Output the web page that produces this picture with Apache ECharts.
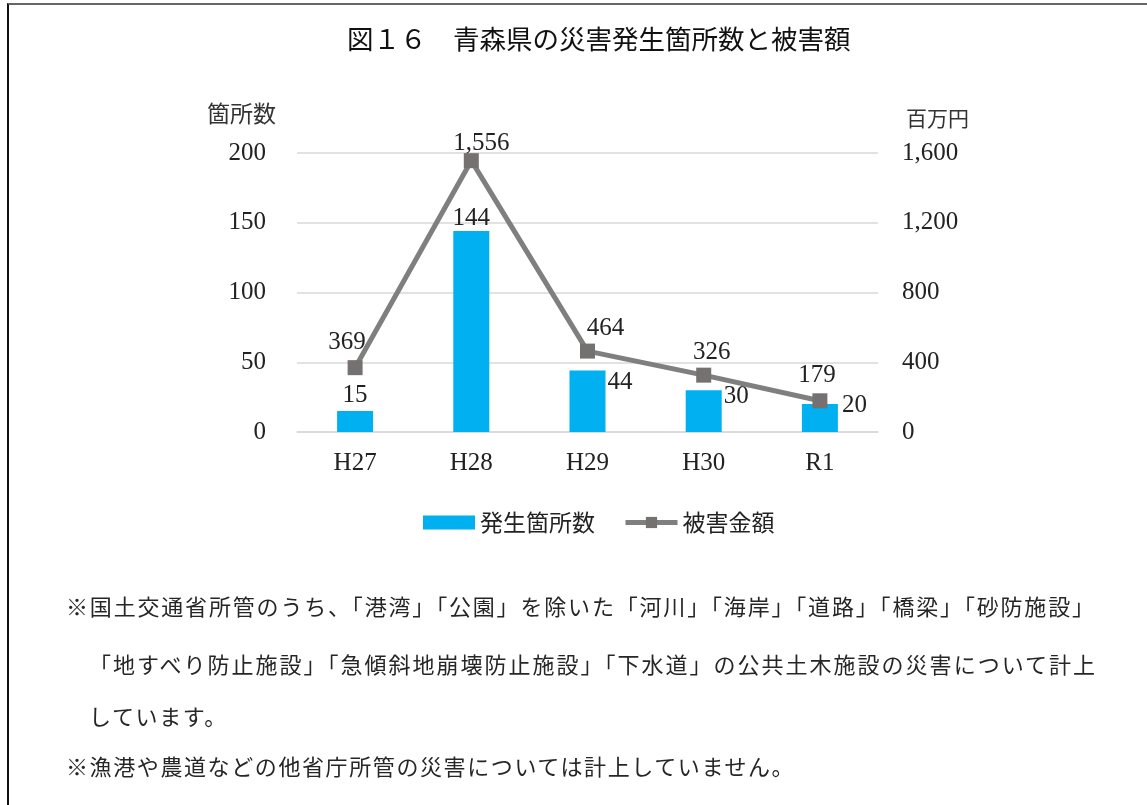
<!DOCTYPE html>
<html>
<head>
<meta charset="utf-8">
<script src="https://cdn.jsdelivr.net/npm/echarts@6/dist/echarts.min.js"></script>
<style>
  html, body { margin: 0; padding: 0; background: #fff; }
  #wrap { position: relative; width: 1147px; height: 805px; overflow: hidden; background: #fff; }
  #chart { position: absolute; left: 0; top: 0; width: 1147px; height: 805px; }
  #frame { position: absolute; left: 7px; top: 3px; width: 1200px; height: 900px;
           border-left: 2px solid #111; border-top: 2px solid #666; pointer-events: none; }
  .note { position: absolute; font-family: "Noto Sans CJK JP", sans-serif; font-size: 22px;
          color: #262626; line-height: 30px; white-space: nowrap; }
  .just { text-align: justify; text-align-last: justify; text-justify: inter-character; }
</style>
</head>
<body>
<div id="wrap">
  <div id="chart"></div>
  <div id="frame"></div>
  <div class="note just" id="n1" style="left:66px; top:590px; width:1028px;"></div>
  <div class="note just" id="n2" style="left:89px; top:648px; width:1006px;"></div>
  <div class="note" id="n3" style="left:89px; top:700px; letter-spacing:1.6px;"></div>
  <div class="note" id="n4" style="left:66px; top:750px; letter-spacing:1.6px;"></div>
</div>
<script>
// ---- data ----
const titleText = '図１６　青森県の災害発生箇所数と被害額';
const categories = ['H27', 'H28', 'H29', 'H30', 'R1'];
const siteCounts = [15, 144, 44, 30, 20];
const damageAmounts = [369, 1556, 464, 326, 179];
const seriesNames = ['発生箇所数', '被害金額'];
const leftAxisName = '箇所数';
const rightAxisName = '百万円';
const leftAxisRange = [0, 200, 50];
const rightAxisRange = [0, 1600, 400];
const noteLines = [
  '※国土交通省所管のうち、「港湾」「公園」を除いた「河川」「海岸」「道路」「橋梁」「砂防施設」',
  '「地すべり防止施設」「急傾斜地崩壊防止施設」「下水道」の公共土木施設の災害について計上',
  'しています。',
  '※漁港や農道などの他省庁所管の災害については計上していません。'
];

['n1', 'n2', 'n3', 'n4'].forEach((id, i) => { document.getElementById(id).textContent = noteLines[i]; });

// ---- styling ----
const numFont = '"Liberation Serif", "DejaVu Serif", serif';
const cjkFont = '"Noto Sans CJK JP", sans-serif';
const barColor = '#00B0F0';
const lineColor = '#7F7F7F';
const markerColor = '#767171';
const gridColor = '#D9D9D9';
const txt = '#222';
const numSize = 25;

const barLabelCfg = [
  { position: 'top', distance: 3 },
  { position: 'top', distance: 0 },
  { position: 'right', distance: 2, offset: [0, -19] },
  { position: 'right', distance: 2, offset: [0, -15] },
  { position: 'right', distance: 4, offset: [0, -13] }
];
const lineLabelCfg = [
  { distance: 5, offset: [-8, 0] },
  { distance: -3, offset: [10, 0] },
  { distance: 3, offset: [18, 0] },
  { distance: 3, offset: [8, 0] },
  { distance: 5, offset: [-3, 0] }
];

const fmt = v => Number(v).toLocaleString('en-US');

const chart = echarts.init(document.getElementById('chart'), null, { renderer: 'canvas' });
chart.setOption({
  animation: false,
  backgroundColor: '#fff',
  title: {
    text: titleText,
    left: 347, top: 26, padding: 0,
    textStyle: { fontFamily: cjkFont, fontSize: 26.5, fontWeight: 'normal', color: '#111' }
  },
  legend: {
    left: 418, top: 506,
    itemWidth: 52, itemHeight: 14, itemGap: 28,
    lineStyle: { width: 5, color: lineColor },
    textStyle: { fontFamily: cjkFont, fontSize: 23, color: txt },
    data: [
      { name: seriesNames[0], icon: 'rect' },
      { name: seriesNames[1] }
    ]
  },
  grid: { left: 297, right: 269, top: 153, bottom: 373, containLabel: false },
  graphic: [
    { type: 'text', left: 207, top: 102, style: { text: leftAxisName, font: '23px ' + cjkFont, fill: '#333' } },
    { type: 'text', left: 906, top: 108, style: { text: rightAxisName, font: '21px ' + cjkFont, fill: '#333' } }
  ],
  xAxis: {
    type: 'category',
    data: categories,
    boundaryGap: true,
    axisLine: { show: true, lineStyle: { color: gridColor, width: 1.5 } },
    axisTick: { show: false },
    axisLabel: { margin: 19, fontFamily: numFont, fontSize: numSize, color: txt }
  },
  yAxis: [
    {
      type: 'value', min: leftAxisRange[0], max: leftAxisRange[1], interval: leftAxisRange[2],
      axisLine: { show: false }, axisTick: { show: false },
      splitLine: { lineStyle: { color: gridColor, width: 1.5 } },
      axisLabel: { margin: 31, fontFamily: numFont, fontSize: numSize, color: txt }
    },
    {
      type: 'value', min: rightAxisRange[0], max: rightAxisRange[1], interval: rightAxisRange[2],
      axisLine: { show: false }, axisTick: { show: false },
      splitLine: { show: false },
      axisLabel: { margin: 24, fontFamily: numFont, fontSize: numSize, color: txt, formatter: v => fmt(v) }
    }
  ],
  series: [
    {
      name: seriesNames[0],
      type: 'bar',
      yAxisIndex: 0,
      barWidth: 36,
      itemStyle: { color: barColor },
      data: siteCounts.map((v, i) => ({
        value: v,
        label: Object.assign({ show: true, fontFamily: numFont, fontSize: numSize, color: txt }, barLabelCfg[i])
      }))
    },
    {
      name: seriesNames[1],
      type: 'line',
      yAxisIndex: 1,
      symbol: 'rect',
      symbolSize: 15,
      lineStyle: { color: lineColor, width: 5 },
      itemStyle: { color: markerColor },
      z: 5,
      data: damageAmounts.map((v, i) => ({
        value: v,
        label: Object.assign({ show: true, position: 'top', fontFamily: numFont, fontSize: numSize, color: txt, formatter: p => fmt(p.value) }, lineLabelCfg[i])
      }))
    }
  ]
});
</script>
</body>
</html>
